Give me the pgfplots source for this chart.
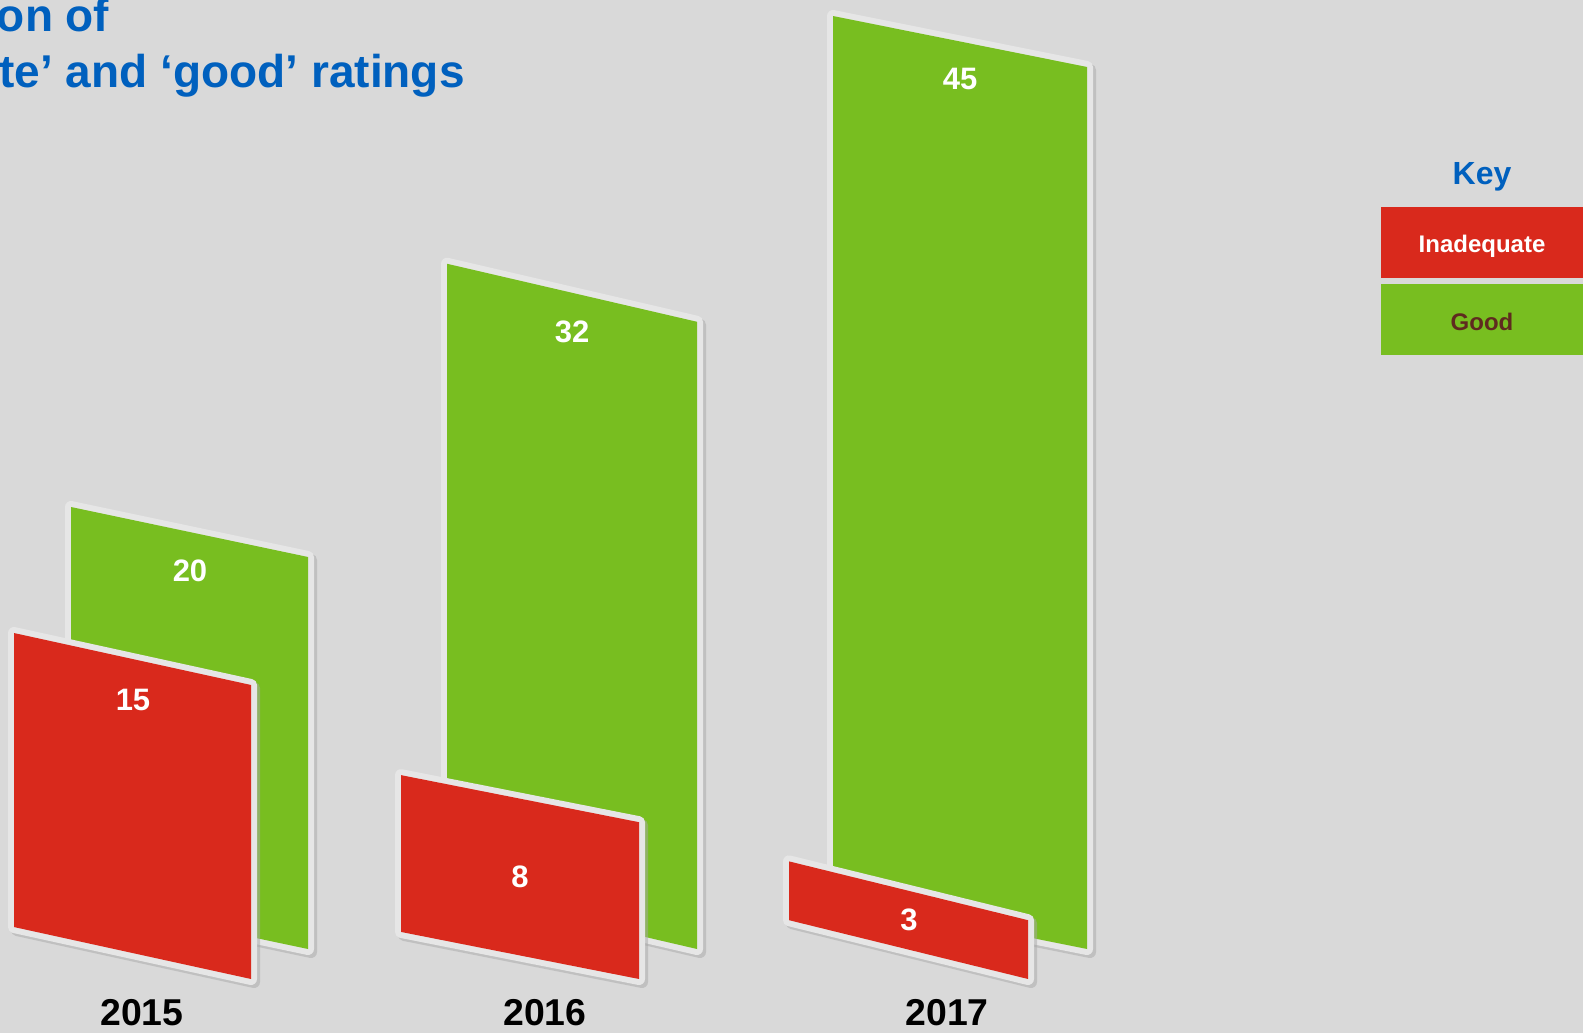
\documentclass[border=0pt]{standalone}
\usepackage{fontspec}
\setmainfont{Liberation Sans}
\usepackage{pgfplots}
\pgfplotsset{compat=1.18}
\definecolor{bgc}{HTML}{D9D9D9}
\definecolor{edgec}{HTML}{E6E6E6}
\definecolor{shadowc}{HTML}{A8A8A8}
\definecolor{redc}{HTML}{D9291C}
\definecolor{greenc}{HTML}{78BE20}
\definecolor{bluec}{HTML}{0060BE}
\definecolor{brownc}{HTML}{5F2A1F}
\newcommand{\slab}[2]{%
  \addplot[draw=shadowc, fill=shadowc, line width=6pt, line join=round, xshift=1.5pt, yshift=-1.5pt, opacity=0.5, no markers] coordinates {#2} -- cycle;
  \addplot[draw=edgec, fill=edgec, line width=6pt, line join=round, no markers] coordinates {#2} -- cycle;
  \addplot[draw=none, fill=#1, no markers] coordinates {#2} -- cycle;
}
\begin{document}
\begin{tikzpicture}[x=0.5pt,y=0.5pt]
\path[use as bounding box] (0,0) rectangle (1583,1033);
\clip (0,0) rectangle (1583,1033);
\fill[bgc] (0,0) rectangle (1583,1033);
\begin{axis}[at={(0,0)}, anchor=south west, scale only axis,
  width=791.5pt, height=516.5pt,
  xmin=0, xmax=1583, ymin=-4.2857, ymax=48.418,
  hide axis, clip=false]
% green ("Good") bars: values 20, 32, 45
\slab{greenc}{(71,2.55) (71,22.55) (308,20) (308,0)}
\slab{greenc}{(447,2.96) (447,34.96) (697,32) (697,0)}
\slab{greenc}{(833,2.6) (833,47.6) (1087,45) (1087,0)}
% red ("Inadequate") bars: values 15, 8, 3 (baseline -1.53)
\slab{redc}{(14,1.12) (14,16.12) (251,13.47) (251,-1.53)}
\slab{redc}{(401,0.87) (401,8.87) (639,6.47) (639,-1.53)}
\slab{redc}{(789,1.47) (789,4.47) (1028,1.47) (1028,-1.53)}
\begin{scope}[every node/.style={text=white, inner sep=0pt, font=\fontsize{15.5}{18}\selectfont\bfseries}]
\node at (axis cs:190,19.3) {20};
\node at (axis cs:572,31.5) {32};
\node at (axis cs:960,44.4) {45};
\node at (axis cs:133,12.7) {15};
\node at (axis cs:520,3.67) {8};
\node at (axis cs:909,1.47) {3};
\end{scope}
\end{axis}
% year labels
\begin{scope}[every node/.style={inner sep=0pt, font=\fontsize{18.7}{22}\selectfont\bfseries}]
\node at (142,20) {2015};
\node at (545,20) {2016};
\node at (947,20) {2017};
\end{scope}
% title
\node[anchor=base east, inner sep=0pt, text=bluec, font=\fontsize{23}{27}\selectfont\bfseries] (t2) at (465,945) {‘inadequate’ and ‘good’ ratings};
\node[anchor=base west, inner sep=0pt, text=bluec, font=\fontsize{23}{27}\selectfont\bfseries] at ([yshift=28pt]t2.base west) {Comparison of};
% key
\node[text=bluec, inner sep=0pt, font=\fontsize{16}{19}\selectfont\bfseries] at (1482,856) {Key};
\fill[redc] (1381,826) rectangle (1600,755);
\fill[greenc] (1381,749) rectangle (1600,678);
\node[text=white, inner sep=0pt, font=\fontsize{12}{14}\selectfont\bfseries] at (1482,787) {Inadequate};
\node[text=brownc, inner sep=0pt, font=\fontsize{12}{14}\selectfont\bfseries] at (1482,711) {Good};
\end{tikzpicture}
\end{document}
